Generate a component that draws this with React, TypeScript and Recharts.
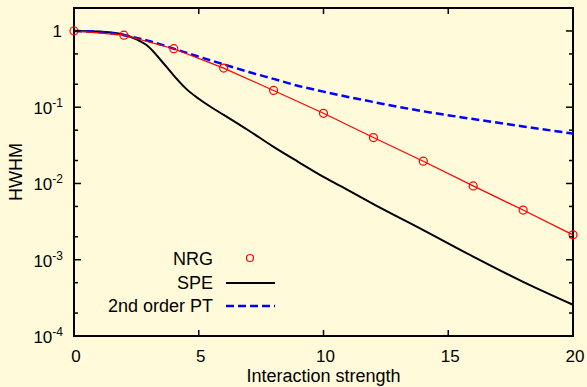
import React from 'react';
import { LineChart, Line, XAxis, YAxis, ReferenceArea, Legend, Label } from 'recharts';

// NRG points (x = 0, 2, ..., 20)
const nrgX = [0, 2, 4, 6, 8, 10, 12, 14, 16, 18, 20];
const nrgY = [1.0, 0.881, 0.585, 0.326, 0.166, 0.0832, 0.040, 0.0196, 0.0093, 0.00448, 0.00212];

// SPE curve
const speX = [0, 1, 1.5, 2, 2.5, 3, 3.5, 4, 4.5, 5, 5.5, 6, 7, 8, 9, 10, 11, 12, 14, 16, 18, 20];
const speY = [1.0, 0.984, 0.955, 0.891, 0.776, 0.617, 0.407, 0.26, 0.174, 0.129, 0.1, 0.0794, 0.0495, 0.0302, 0.0191, 0.0122, 0.00813, 0.00537, 0.00245, 0.0011, 0.000513, 0.000257];

// 2nd order perturbation theory
const ptX = [0, 1, 2, 3, 4, 5, 6, 7, 8, 9, 10, 12, 14, 16, 18, 20];
const ptY = [1.0, 0.97, 0.88, 0.74, 0.585, 0.46, 0.365, 0.29, 0.235, 0.19, 0.16, 0.117, 0.0885, 0.07, 0.056, 0.0451];

const xTicks = [0, 5, 10, 15, 20];
const yMajor = [1e-4, 1e-3, 1e-2, 1e-1, 1];
const yMinor = [2e-4, 5e-4, 2e-3, 5e-3, 2e-2, 5e-2, 0.2, 0.5];

const nrgData = nrgX.map((x, i) => ({ x, y: nrgY[i] }));
const speData = speX.map((x, i) => ({ x, y: speY[i] }));
const ptData = ptX.map((x, i) => ({ x, y: ptY[i] }));

const W = 587;
const H = 387;
const PLOT_L = 74;
const PLOT_R = 573;
const PLOT_T = 8;
const PLOT_B = 336;
const BG = '#fffad9';
const FONT = '"Liberation Sans", Arial, Helvetica, sans-serif';
const FS = 17; // tick labels
const FL = 18; // titles and key

const YTick = (props: any) => {
  const { y, payload } = props;
  const v = payload.value as number;
  const lg = Math.log10(v);
  const e = Math.round(lg);
  const major = Math.abs(lg - e) < 1e-6;
  const len = major ? 7 : 4;
  return (
    <g>
      <line x1={PLOT_L} x2={PLOT_L + len} y1={y} y2={y} stroke="#000" strokeWidth={1.5} />
      <line x1={PLOT_R - len} x2={PLOT_R} y1={y} y2={y} stroke="#000" strokeWidth={1.5} />
      {major && e === 0 && (
        <text x={62} y={y + 6} textAnchor="end" fontSize={FS} fontFamily={FONT} fill="#000">1</text>
      )}
      {major && e !== 0 && (
        <text x={63} y={y + 7} textAnchor="end" fontSize={FS} fontFamily={FONT} fill="#000">
          10<tspan dy={-7} fontSize={12}>{String(e)}</tspan>
        </text>
      )}
    </g>
  );
};

const XTick = (props: any) => {
  const { x, payload } = props;
  return (
    <g>
      <line x1={x} x2={x} y1={PLOT_B} y2={PLOT_B - 6} stroke="#000" strokeWidth={1.5} />
      <line x1={x} x2={x} y1={PLOT_T} y2={PLOT_T + 6} stroke="#000" strokeWidth={1.5} />
      <text x={x + 2} y={362} textAnchor="middle" fontSize={FS} fontFamily={FONT} fill="#000">
        {payload.value}
      </text>
    </g>
  );
};

const KeyBox = () => (
  <svg width={200} height={75} style={{ display: 'block' }}>
    <g fontFamily={FONT} fontSize={FL} fill="#000">
      <text x={123} y={20} textAnchor="end">NRG</text>
      <text x={123} y={44} textAnchor="end">SPE</text>
      <text x={123} y={67} textAnchor="end">2nd order PT</text>
    </g>
    <circle cx={160} cy={13} r={3.5} fill="none" stroke="#ff0000" strokeWidth={1.2} />
    <line x1={136} x2={185} y1={38} y2={38} stroke="#000" strokeWidth={2} />
    <line x1={136} x2={185} y1={61} y2={61} stroke="#0000ff" strokeWidth={2.5} strokeDasharray="8 4" />
  </svg>
);

export default function App() {
  return (
    <div style={{ position: 'absolute', left: 0, top: 0, width: W, height: H, background: BG }}>
      <LineChart width={W} height={H} margin={{ top: PLOT_T, right: W - PLOT_R, bottom: 0, left: 0 }}>
        <XAxis
          type="number"
          dataKey="x"
          domain={[0, 20]}
          ticks={xTicks}
          interval={0}
          height={H - PLOT_B}
          axisLine={false}
          tickLine={false}
          tick={<XTick />}
        >
          <Label
            value="Interaction strength"
            position="insideBottom"
            offset={5}
            style={{ fontSize: FL, fontFamily: FONT, fill: '#000' }}
          />
        </XAxis>
        <YAxis
          type="number"
          dataKey="y"
          scale="log"
          domain={[1e-4, 2]}
          ticks={[...yMajor, ...yMinor]}
          interval={0}
          width={PLOT_L}
          axisLine={false}
          tickLine={false}
          tick={<YTick />}
        >
          <Label
            content={() => (
              <text
                x={0}
                y={0}
                transform={`translate(22, ${(PLOT_T + PLOT_B) / 2}) rotate(-90)`}
                textAnchor="middle"
                fontSize={FL}
                fontFamily={FONT}
                fill="#000"
              >
                HWHM
              </text>
            )}
          />
        </YAxis>
        <Line
          data={speData}
          dataKey="y"
          type="monotone"
          stroke="#000"
          strokeWidth={2}
          dot={false}
          isAnimationActive={false}
          name="SPE"
        />
        <Line
          data={ptData}
          dataKey="y"
          type="monotone"
          stroke="#0000ff"
          strokeWidth={2.5}
          strokeDasharray="8 4"
          dot={false}
          isAnimationActive={false}
          name="2nd order PT"
        />
        <Line
          data={nrgData}
          dataKey="y"
          type="linear"
          stroke="#ff0000"
          strokeWidth={1.2}
          dot={{ r: 4, fill: 'none', stroke: '#ff0000', strokeWidth: 1.2 }}
          isAnimationActive={false}
          name="NRG"
        />
        <ReferenceArea x1={0} x2={20} y1={1e-4} y2={2} fill="none" stroke="#000" strokeWidth={2} />
        <Legend
          layout="vertical"
          align="center"
          verticalAlign="middle"
          content={() => <KeyBox />}
          wrapperStyle={{ position: 'absolute', left: 90, top: 245, width: 200, height: 75 }}
        />
      </LineChart>
    </div>
  );
}
